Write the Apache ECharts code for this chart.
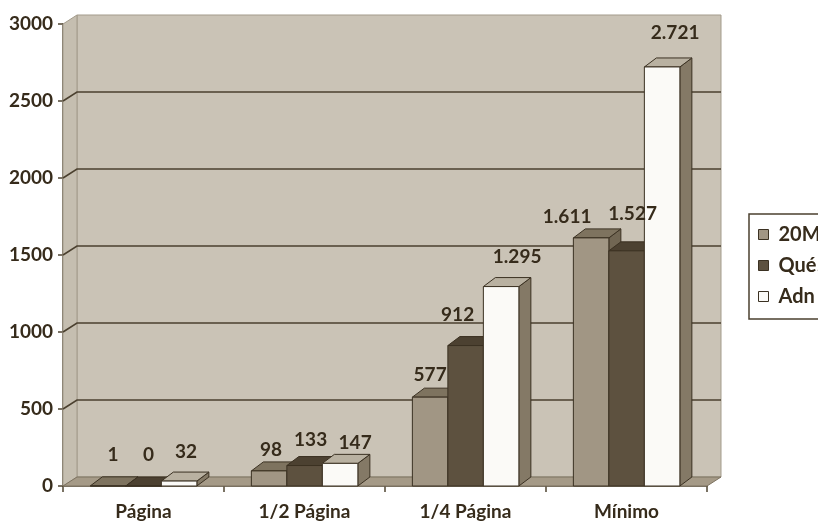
<!DOCTYPE html>
<html>
<head>
<meta charset="utf-8">
<script src="https://cdn.jsdelivr.net/npm/echarts@6/dist/echarts.min.js"></script>
<style>
  html, body { margin: 0; padding: 0; background: #ffffff; }
  #chart { width: 818px; height: 525px; }
</style>
</head>
<body>
<div id="chart"></div>
<script>
// Ad sizes and the three newspapers
const categories = ['Página', '1/2 Página', '1/4 Página', 'Mínimo'];
const seriesNames = ['20Minutos', 'Qué!', 'Adn'];
const values20M = [1, 98, 577, 1611];
const valuesQue = [0, 133, 912, 1527];
const valuesAdn = [32, 147, 1295, 2721];
const yTicks = [0, 500, 1000, 1500, 2000, 2500, 3000];

// Small per-label nudges (px) so value labels sit where they look best
const labelNudge20M = [[-1, -1], [-4, 9], [-6, 8], [-30, 9]];
const labelNudgeQue = [[-1, -1], [0, 4], [-14, -1], [0, -7]];
const labelNudgeAdn = [[1, 1], [9, 10], [10, 0], [7, -4]];

const allValues = [values20M, valuesQue, valuesAdn];
const allNudges = [labelNudge20M, labelNudgeQue, labelNudgeAdn];

// Styling
const FONT = 'Lato, "Open Sans", sans-serif';
const TEXT = '#362b1b';
const OUTLINE = '#3b3122';
const palette = [
  { front: '#a19684', top: '#7e735f', side: '#716653' },
  { front: '#5d513f', top: '#4c4131', side: '#463c2d' },
  { front: '#fbfaf7', top: '#b9b1a1', side: '#847966' }
];
const WALL_DX = 14, WALL_DY = 9;   // depth of the back wall
const BAR_DX = 12, BAR_DY = 9;     // depth of each column
const GROUP_START = -0.33;         // group offset from band centre, in bands
const BAR_W = 0.2205;              // column width, in bands

const fmt = v => String(v).replace(/\B(?=(\d{3})+(?!\d))/g, '.');

function renderWalls(params, api) {
  const band = api.size([1, 0])[0];
  const c0 = api.coord([0, 0]);
  const xL = c0[0] - band / 2;
  const xR = api.coord([categories.length - 1, 0])[0] + band / 2;
  const yB = c0[1];
  const yT = api.coord([0, yTicks[yTicks.length - 1]])[1];
  const bxL = xL + WALL_DX, bxR = xR + WALL_DX;
  const children = [
    { type: 'rect', shape: { x: bxL, y: yT - WALL_DY, width: bxR - bxL, height: yB - yT },
      style: { fill: '#cac3b6', stroke: '#a39b8b', lineWidth: 1 } },
    { type: 'polygon', shape: { points: [[xL, yT], [bxL, yT - WALL_DY], [bxL, yB - WALL_DY], [xL, yB]] },
      style: { fill: '#c5beb0', stroke: '#a39b8b', lineWidth: 1 } },
    { type: 'polygon', shape: { points: [[xL, yB], [xR, yB], [bxR, yB - WALL_DY], [bxL, yB - WALL_DY]] },
      style: { fill: '#a59a87', stroke: '#7d7260', lineWidth: 1 } }
  ];
  yTicks.slice(1, -1).forEach(t => {
    const y = api.coord([0, t])[1];
    children.push({ type: 'polyline',
      shape: { points: [[xL, y], [bxL, y - WALL_DY], [bxR, y - WALL_DY]] },
      style: { stroke: '#4b402f', lineWidth: 1.6, fill: null } });
  });
  return { type: 'group', children };
}

function makeBarRenderer(j) {
  const c = palette[j];
  return function (params, api) {
    const cat = api.value(0), val = api.value(1);
    const base = api.coord([cat, 0]);
    const top = api.coord([cat, val]);
    const band = api.size([1, 0])[0];
    const w = band * BAR_W;
    const x0 = base[0] + band * (GROUP_START + BAR_W * j);
    const yb = base[1], yt = top[1];
    const st = { stroke: OUTLINE, lineWidth: 1, lineJoin: 'round' };
    return { type: 'group', children: [
      { type: 'polygon', shape: { points: [[x0 + w, yt], [x0 + w, yb], [x0 + w + BAR_DX, yb - BAR_DY], [x0 + w + BAR_DX, yt - BAR_DY]] },
        style: Object.assign({ fill: c.side }, st) },
      { type: 'polygon', shape: { points: [[x0, yt], [x0 + w, yt], [x0 + w + BAR_DX, yt - BAR_DY], [x0 + BAR_DX, yt - BAR_DY]] },
        style: Object.assign({ fill: c.top }, st) },
      { type: 'rect', shape: { x: x0, y: yt, width: w, height: Math.max(yb - yt, 0) },
        style: Object.assign({ fill: c.front }, st) }
    ] };
  };
}

function renderLabels(params, api) {
  const cat = api.value(0), val = api.value(1), j = api.value(2);
  const base = api.coord([cat, 0]);
  const top = api.coord([cat, val]);
  const band = api.size([1, 0])[0];
  const w = band * BAR_W;
  const x0 = base[0] + band * (GROUP_START + BAR_W * j);
  const n = allNudges[j][cat];
  return { type: 'text',
    x: x0 + w / 2 + BAR_DX / 2 + n[0], y: top[1] - 30 + n[1],
    style: { text: fmt(val), fill: TEXT, font: 'bold 19px ' + FONT, align: 'center', verticalAlign: 'middle' } };
}

const labelData = [];
allValues.forEach((arr, j) => arr.forEach((v, i) => labelData.push([i, v, j])));

const series = [
  { type: 'custom', name: 'walls', silent: true, clip: false, z: 1,
    renderItem: renderWalls, data: [[0, 0]] }
];
seriesNames.forEach((name, j) => {
  series.push({ type: 'custom', name, clip: false, z: 2,
    itemStyle: { color: palette[j].front, borderColor: OUTLINE, borderWidth: 1 },
    renderItem: makeBarRenderer(j),
    data: allValues[j].map((v, i) => [i, v]) });
});
series.push({ type: 'custom', name: 'labels', silent: true, clip: false, z: 5,
  renderItem: renderLabels, data: labelData });

const chart = echarts.init(document.getElementById('chart'), null, { renderer: 'canvas' });
chart.setOption({
  animation: false,
  backgroundColor: '#ffffff',
  grid: { left: 63, right: 111, top: 24, bottom: 39, containLabel: false },
  xAxis: {
    type: 'category', data: categories, boundaryGap: true,
    axisLine: { show: true, lineStyle: { color: '#4f4432', width: 1.5 } },
    axisTick: { show: true, length: 6, lineStyle: { color: '#4f4432', width: 1.5 } },
    axisLabel: { margin: 16, color: TEXT, fontFamily: FONT, fontWeight: 'bold', fontSize: 19 },
    splitLine: { show: false }
  },
  yAxis: {
    type: 'value', min: 0, max: 3000, interval: 500,
    axisLine: { show: true, lineStyle: { color: '#4f4432', width: 1.5 } },
    axisTick: { show: true, length: 5, lineStyle: { color: '#4f4432', width: 1.5 } },
    axisLabel: { margin: 10, color: TEXT, fontFamily: FONT, fontWeight: 'bold', fontSize: 19,
      formatter: v => String(v) },
    splitLine: { show: false }
  },
  legend: {
    orient: 'vertical', left: 749, top: 214,
    padding: [10, 40, 12, 9],
    borderColor: '#4b402f', borderWidth: 1.5,
    itemWidth: 10, itemHeight: 10, itemGap: 10,
    icon: 'rect',
    textStyle: { color: TEXT, fontFamily: FONT, fontWeight: 'bold', fontSize: 20, lineHeight: 21, padding: [0, 0, 0, 5] },
    data: seriesNames.map((n, j) => ({ name: n,
      itemStyle: { color: palette[j].front, borderColor: OUTLINE, borderWidth: 1 } }))
  },
  series
});
</script>
</body>
</html>
